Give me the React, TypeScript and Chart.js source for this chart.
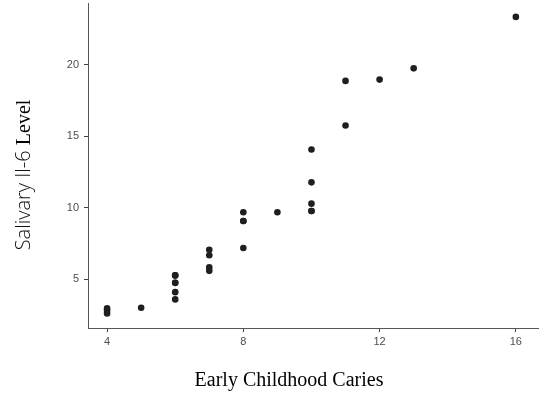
import React, { useEffect, useRef } from "react";
import { Chart, registerables } from "chart.js";

Chart.register(...registerables);

const cariesValues = [4, 4, 4, 5, 6, 6, 6, 6, 6, 6, 7, 7, 7, 7, 8, 8, 8, 8, 9, 10, 10, 10, 10, 10, 11, 11, 12, 13, 16];
const il6Values = [2.95, 2.8, 2.6, 3.0, 5.26, 5.26, 4.74, 4.74, 4.09, 3.58, 7.05, 6.67, 5.82, 5.58, 9.68, 9.07, 9.07, 7.18, 9.68, 14.07, 11.77, 10.28, 9.77, 9.77, 18.87, 15.75, 18.96, 19.75, 23.35];
const xTicks = [4, 8, 12, 16];
const yTicks = [5, 10, 15, 20];
const xTitle = "Early Childhood Caries";
const yTitleSans = "Salivary Il-6 ";
const yTitleSerif = "Level";

const titlePlugin = {
  id: "mixedTitles",
  afterDraw(chart: any) {
    const ctx = chart.ctx as CanvasRenderingContext2D;
    ctx.save();
    // x title
    ctx.font = "20px 'Liberation Serif'";
    ctx.fillStyle = "#000";
    ctx.textAlign = "center";
    ctx.textBaseline = "alphabetic";
    ctx.fillText(xTitle, 289, 386);
    // y title (mixed fonts)
    const sansFont = "300 20px 'Open Sans'";
    const serifFont = "20px 'Liberation Serif'";
    ctx.font = sansFont;
    const w1 = ctx.measureText(yTitleSans).width;
    ctx.font = serifFont;
    const w2 = ctx.measureText(yTitleSerif).width;
    const total = w1 + w2;
    ctx.translate(30, 175);
    ctx.rotate(-Math.PI / 2);
    ctx.textAlign = "left";
    ctx.font = sansFont;
    ctx.fillStyle = "#111";
    ctx.fillText(yTitleSans, -total / 2, 0);
    ctx.font = serifFont;
    ctx.fillStyle = "#000";
    ctx.fillText(yTitleSerif, -total / 2 + w1, 0);
    ctx.restore();
  },
};

export default function App() {
  const ref = useRef<HTMLCanvasElement | null>(null);
  useEffect(() => {
    if (!ref.current) return;
    const points = cariesValues.map((x, i) => ({ x, y: il6Values[i] }));
    const chart = new Chart(ref.current, {
      type: "scatter",
      data: {
        datasets: [
          {
            data: points,
            backgroundColor: "#1f1f1f",
            borderWidth: 0,
            pointRadius: 3.3,
            pointHoverRadius: 3.3,
          },
        ],
      },
      plugins: [titlePlugin],
      options: {
        animation: false,
        responsive: true,
        maintainAspectRatio: false,
        layout: { padding: { top: 2, right: 12, left: 0, bottom: 0 } },
        plugins: { legend: { display: false }, tooltip: { enabled: false } },
        scales: {
          x: {
            type: "linear",
            min: 3.44,
            max: 16.65,
            afterBuildTicks: (scale: any) => {
              scale.ticks = xTicks.map((v) => ({ value: v }));
            },
            afterFit: (scale: any) => {
              scale.height = 69;
              scale.paddingLeft = 0;
              scale.paddingRight = 0;
            },
            border: { display: true, color: "#555", width: 1 },
            grid: { display: true, drawOnChartArea: false, tickLength: 4, color: "#444", tickColor: "#444" },
            ticks: {
              color: "#4d4d4d",
              font: { family: "'Liberation Sans'", size: 11 },
              padding: 3,
              maxRotation: 0,
            },
          },
          y: {
            type: "linear",
            min: 1.58,
            max: 24.3,
            afterBuildTicks: (scale: any) => {
              scale.ticks = yTicks.map((v) => ({ value: v }));
            },
            afterFit: (scale: any) => {
              scale.width = 88;
              scale.paddingTop = 0;
              scale.paddingBottom = 0;
            },
            border: { display: true, color: "#555", width: 1 },
            grid: { display: true, drawOnChartArea: false, tickLength: 4, color: "#444", tickColor: "#444" },
            ticks: {
              color: "#4d4d4d",
              font: { family: "'Liberation Sans'", size: 11 },
              padding: 5,
            },
          },
        },
      },
    });
    return () => chart.destroy();
  }, []);
  return (
    <div style={{ position: "fixed", left: 0, top: 0, width: 550, height: 397, background: "#fff" }}>
      <canvas ref={ref} />
    </div>
  );
}
